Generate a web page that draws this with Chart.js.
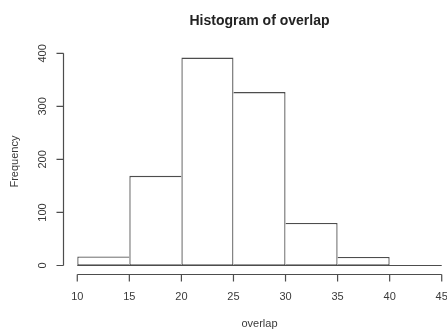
<!DOCTYPE html>
<html>
<head>
<meta charset="utf-8">
<script src="https://cdn.jsdelivr.net/npm/chart.js@4/dist/chart.umd.min.js"></script>
<style>
  html, body { margin: 0; padding: 0; background: #fff; overflow: hidden; }
  #wrap { width: 480px; height: 331px; }
</style>
</head>
<body>
<div id="wrap"><canvas id="hist" width="480" height="331"></canvas></div>
<script>
// datos del histograma
const breaks = [10, 15, 20, 25, 30, 35, 40, 45];
const counts = [17, 169, 392, 327, 80, 16, 0];
const xTicks = [10, 15, 20, 25, 30, 35, 40, 45];
const yTicks = [0, 100, 200, 300, 400];

const titulo = 'Histogram of overlap';
const etiquetaX = 'overlap';
const etiquetaY = 'Frequency';

const colorLinea = '#4d4d4d';
const colorTexto = '#3a3a3a';
const fuente = '"Liberation Sans", Arial, sans-serif';

// rango estilo R: se extiende un 4%
const xSpan = breaks[breaks.length - 1] - breaks[0];
const yMax = Math.max(...counts);

const puntos = counts.map((c, i) => ({ x: (breaks[i] + breaks[i + 1]) / 2, y: c }));

// dibuja ejes, titulos y la linea base al estilo de R
const ejesR = {
  id: 'ejesR',
  afterDraw(chart) {
    const ctx = chart.ctx;
    const area = chart.chartArea;
    const sx = chart.scales.x;
    const sy = chart.scales.y;
    ctx.save();
    ctx.strokeStyle = colorLinea;
    ctx.fillStyle = colorTexto;
    ctx.lineWidth = 1.2;

    // linea base de las barras
    const y0 = sy.getPixelForValue(0);
    ctx.beginPath();
    ctx.moveTo(sx.getPixelForValue(breaks[0]), y0);
    ctx.lineTo(sx.getPixelForValue(breaks[breaks.length - 1]), y0);
    ctx.stroke();

    // eje x
    const ax = Math.round(area.bottom) + 0.5;
    ctx.beginPath();
    ctx.moveTo(sx.getPixelForValue(xTicks[0]), ax);
    ctx.lineTo(sx.getPixelForValue(xTicks[xTicks.length - 1]), ax);
    xTicks.forEach(t => {
      const px = sx.getPixelForValue(t);
      ctx.moveTo(px, ax);
      ctx.lineTo(px, ax + 7);
    });
    ctx.stroke();
    ctx.font = '11px ' + fuente;
    ctx.textAlign = 'center';
    ctx.textBaseline = 'middle';
    xTicks.forEach(t => ctx.fillText(String(t), sx.getPixelForValue(t), ax + 22));

    // eje y
    const ay = Math.round(area.left) + 0.5;
    ctx.beginPath();
    ctx.moveTo(ay, sy.getPixelForValue(yTicks[0]));
    ctx.lineTo(ay, sy.getPixelForValue(yTicks[yTicks.length - 1]));
    yTicks.forEach(t => {
      const py = sy.getPixelForValue(t);
      ctx.moveTo(ay, py);
      ctx.lineTo(ay - 7, py);
    });
    ctx.stroke();
    yTicks.forEach(t => {
      ctx.save();
      ctx.translate(ay - 21, sy.getPixelForValue(t));
      ctx.rotate(-Math.PI / 2);
      ctx.fillText(String(t), 0, 0);
      ctx.restore();
    });

    // titulos
    const cx = (area.left + area.right) / 2;
    ctx.fillText(etiquetaX, cx, 324);
    ctx.save();
    ctx.translate(15, (area.top + area.bottom) / 2);
    ctx.rotate(-Math.PI / 2);
    ctx.fillText(etiquetaY, 0, 0);
    ctx.restore();
    ctx.font = 'bold 14px ' + fuente;
    ctx.fillStyle = '#222';
    ctx.fillText(titulo, cx, 21);
    ctx.restore();
  }
};

// evita bordes dobles entre barras vecinas
const bordeOmitido = (c) => {
  const i = c.dataIndex;
  if (i > 0 && counts[i - 1] >= counts[i]) return 'left';
  if (i < counts.length - 1 && counts[i + 1] > counts[i]) return 'right';
  return false;
};

new Chart(document.getElementById('hist'), {
  type: 'bar',
  data: {
    datasets: [{
      label: etiquetaY,
      data: puntos,
      backgroundColor: '#ffffff',
      borderColor: colorLinea,
      borderWidth: 1.3,
      borderSkipped: bordeOmitido,
      barPercentage: 1,
      categoryPercentage: 1,
      inflateAmount: 0
    }]
  },
  options: {
    responsive: false,
    animation: false,
    layout: { padding: { left: 62.7, right: 23.7, top: 49.3, bottom: 57.2 } },
    plugins: { legend: { display: false }, tooltip: { enabled: false }, title: { display: false } },
    scales: {
      x: {
        type: 'linear', display: false, offset: false,
        min: breaks[0] - xSpan * 0.04, max: breaks[breaks.length - 1] + xSpan * 0.04
      },
      y: { display: false, min: -yMax * 0.04, max: yMax * 1.04 }
    }
  },
  plugins: [ejesR]
});
</script>
</body>
</html>
